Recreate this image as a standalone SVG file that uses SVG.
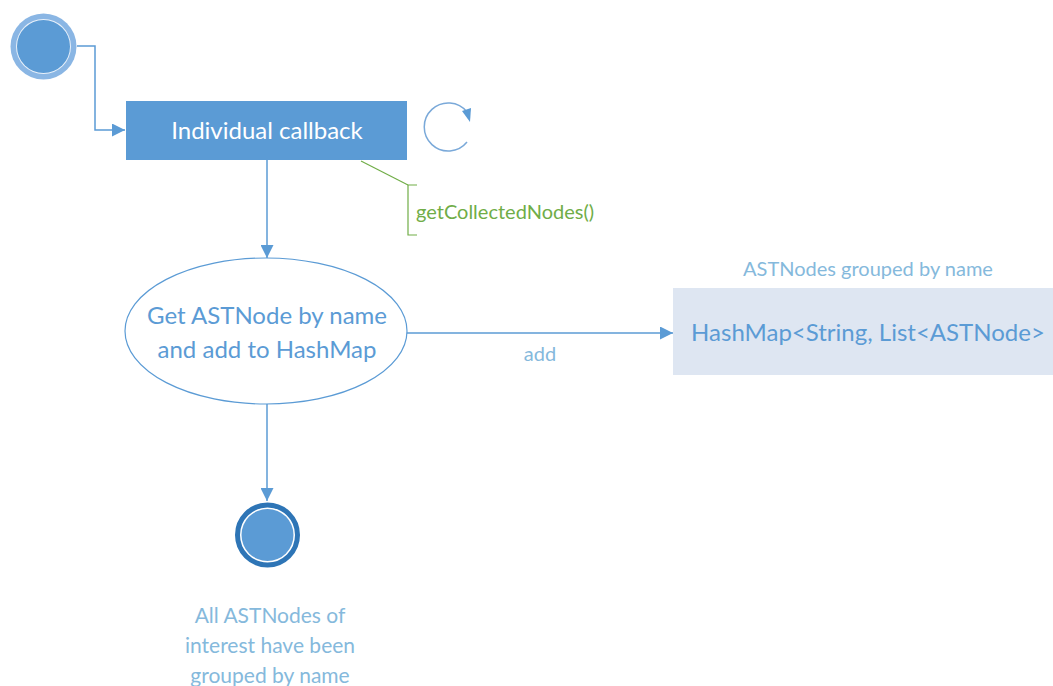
<svg xmlns="http://www.w3.org/2000/svg" width="1053" height="686" viewBox="0 0 1053 686">
  <style>
    .conn { fill: none; stroke: #5b9bd5; stroke-width: 1.5; }
    .lbl { font-family: Lato, "Open Sans", "Liberation Sans", sans-serif; }
    .main { fill: #5b9bd5; font-size: 24px; }
    .soft { fill: #85b9dc; }
  </style>
  <defs>
    <marker id="arrowBig" viewBox="0 0 10 10" refX="10" refY="5" markerWidth="13" markerHeight="13" markerUnits="userSpaceOnUse" orient="auto">
      <path d="M0,0 L10,5 L0,10 Z" fill="#5b9bd5"/>
    </marker>
  </defs>

  <rect width="1053" height="686" fill="#ffffff"/>

  <!-- connectors -->
  <g id="connectors">
    <polyline class="conn" points="77,46 95,46 95,130 125,130" marker-end="url(#arrowBig)"/>
    <line class="conn" x1="267" y1="160" x2="267" y2="258" marker-end="url(#arrowBig)"/>
    <line class="conn" x1="407" y1="333" x2="673" y2="333" marker-end="url(#arrowBig)"/>
    <line class="conn" x1="267" y1="404" x2="267" y2="501" marker-end="url(#arrowBig)"/>
    <text class="lbl soft" x="540" y="361" font-size="20" text-anchor="middle">add</text>
  </g>

  <!-- start state -->
  <g id="start">
    <circle cx="43.5" cy="46.5" r="33" fill="#8ab6e4"/>
    <circle cx="43.5" cy="46.5" r="27.5" fill="#ffffff" opacity="0.8"/>
    <circle cx="43.5" cy="46.5" r="26.5" fill="#5b9bd5"/>
  </g>

  <!-- callback activity -->
  <g id="callback">
    <rect x="126" y="101" width="281" height="59" fill="#5b9bd5"/>
    <text class="lbl" x="267" y="139" font-size="24" fill="#ffffff" text-anchor="middle">Individual callback</text>
    <!-- repeat indicator -->
    <path d="M467,112 A24,24 0 1 0 467,142" fill="none" stroke="#7aa9d9" stroke-width="1.5"/>
    <path d="M462,111 L471,108 L470,122 Z" fill="#5b9bd5"/>
  </g>

  <!-- annotation -->
  <g id="note">
    <path d="M361,161 L408,185" fill="none" stroke="#70ad47" stroke-width="1.2"/>
    <path d="M417,185 L408,185 L408,235 L417,235" fill="none" stroke="#70ad47" stroke-width="1.2"/>
    <text class="lbl" x="416" y="219" font-size="20" fill="#70ad47">getCollectedNodes()</text>
  </g>

  <!-- grouping activity -->
  <g id="group">
    <ellipse cx="266" cy="331" rx="141" ry="73" fill="#ffffff" stroke="#5b9bd5" stroke-width="1.2"/>
    <text class="lbl main" x="267" y="324" text-anchor="middle">Get ASTNode by name</text>
    <text class="lbl main" x="267" y="358" text-anchor="middle">and add to HashMap</text>
  </g>

  <!-- data store -->
  <g id="hashmap">
    <text class="lbl soft" x="868" y="276" font-size="20" text-anchor="middle">ASTNodes grouped by name</text>
    <rect x="673" y="288" width="380" height="87" fill="#dee6f2"/>
    <text class="lbl main" x="868" y="341" text-anchor="middle">HashMap&lt;String, List&lt;ASTNode&gt;</text>
  </g>

  <!-- final state -->
  <g id="end">
    <circle cx="267.5" cy="535" r="30" fill="#ffffff" stroke="#2e75b6" stroke-width="5"/>
    <circle cx="267.5" cy="535" r="26" fill="#5b9bd5"/>
    <text class="lbl soft" x="270" y="623" font-size="21" text-anchor="middle">All ASTNodes of</text>
    <text class="lbl soft" x="270" y="653" font-size="21" text-anchor="middle">interest have been</text>
    <text class="lbl soft" x="270" y="683" font-size="21" text-anchor="middle">grouped by name</text>
  </g>
</svg>
